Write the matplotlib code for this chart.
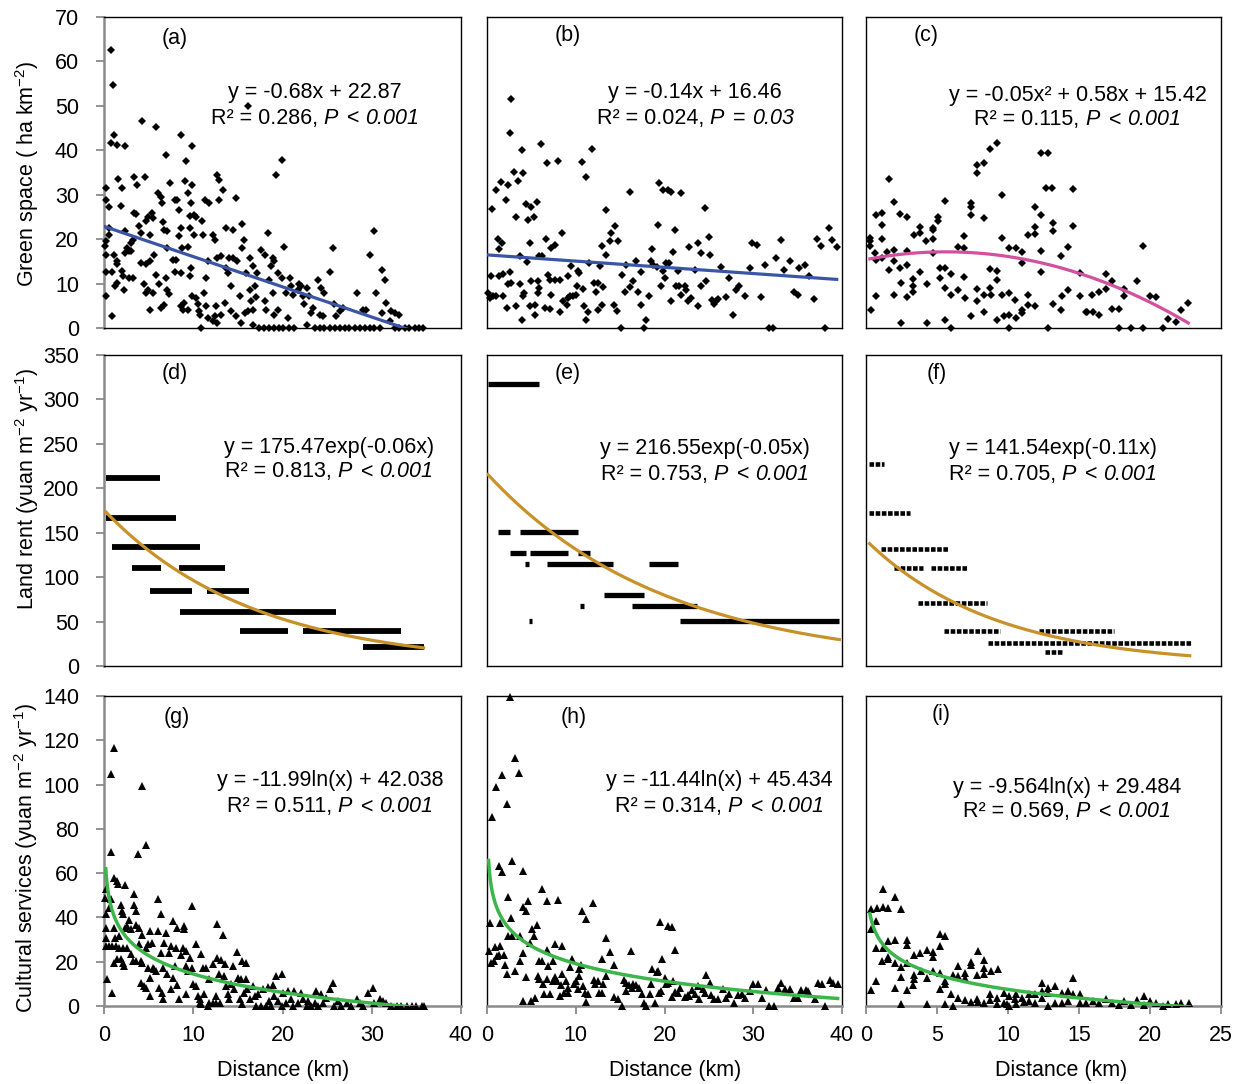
import numpy as np
import matplotlib.pyplot as plt

plt.rcParams['font.family'] = ['Liberation Sans', 'DejaVu Sans']
plt.rcParams['mathtext.fontset'] = 'custom'
plt.rcParams['mathtext.rm'] = 'Liberation Sans'
plt.rcParams['mathtext.it'] = 'Liberation Sans:italic'
plt.rcParams['font.size'] = 15.5

# ---------------- data ----------------
# (a) green space, city 1
a_pts = np.array([
    [0.75, 62.6], [1.0, 54.8], [1.1, 43.5], [0.75, 41.6], [1.5, 41.1], [2.4, 40.9], [0.2, 31.5], [0.26, 28.9],
    [0.56, 27.2], [1.6, 33.6], [2.0, 31.5], [1.9, 27.4], [0.56, 22.5], [0.56, 21.0], [0.2, 19.5], [0.1, 18.4],
    [0.26, 16.5], [1.1, 16.5], [1.4, 15.0], [1.5, 14.3], [0.2, 12.5], [0.94, 12.5], [2.0, 12.8], [2.1, 11.6],
    [1.2, 9.5], [1.5, 10.1], [2.2, 8.5], [0.26, 7.1], [0.94, 2.6], [2.4, 21.8], [2.6, 18.0], [2.8, 17.3],
    [2.4, 16.9], [3.0, 19.1], [3.2, 19.9], [3.4, 25.9], [3.6, 25.7], [3.4, 34.1], [3.7, 32.3], [4.2, 46.5],
    [4.6, 34.0], [3.9, 22.9], [4.1, 21.4], [4.7, 24.0], [4.9, 25.0], [5.4, 25.9], [5.5, 24.8], [5.2, 21.0],
    [3.0, 17.3], [3.2, 11.3], [2.8, 11.3], [4.1, 14.6], [4.7, 14.5], [5.1, 15.0], [4.5, 9.8], [4.7, 7.9],
    [4.9, 8.6], [5.1, 4.1], [5.5, 7.9], [5.6, 16.5], [5.8, 45.2], [6.0, 30.4], [6.4, 29.6], [6.5, 28.1],
    [6.6, 23.8], [6.7, 22.1], [6.9, 39.0], [7.1, 21.8], [7.4, 32.6], [7.1, 18.0], [5.8, 12.0], [6.2, 9.8],
    [6.4, 4.5], [6.7, 5.1], [6.9, 11.3], [7.1, 8.6], [7.3, 7.7], [7.7, 15.4], [7.9, 28.9], [8.1, 15.4],
    [8.0, 12.5], [8.2, 28.9], [8.4, 26.6], [8.6, 43.5], [8.6, 22.5], [8.4, 20.6], [8.7, 18.0], [8.6, 12.4],
    [8.6, 4.9], [8.8, 4.1], [9.2, 37.5], [9.1, 33.0], [9.4, 30.4], [9.6, 25.3], [9.6, 22.5], [9.4, 18.2],
    [9.6, 11.6], [9.7, 13.5], [9.0, 5.6], [9.4, 4.1], [9.9, 40.9], [9.9, 32.3], [9.7, 28.1], [10.1, 25.5],
    [10.3, 25.1], [10.1, 21.0], [9.9, 7.1], [10.3, 6.8], [10.5, 5.3], [10.6, 3.8], [10.7, 3.0], [10.9, 0.0],
    [11.0, 24.0], [11.1, 21.0], [11.3, 28.9], [11.4, 4.9], [11.2, 7.9], [11.4, 11.3], [11.6, 2.3], [11.6, 15.0],
    [11.8, 28.1], [12.2, 1.5], [12.2, 21.0], [12.4, 19.9], [12.4, 2.6], [12.5, 4.9], [12.7, 1.1], [12.7, 34.5],
    [12.7, 15.8], [12.9, 33.4], [13.1, 3.0], [13.1, 16.1], [12.9, 28.9], [13.3, 31.1], [13.5, 5.6], [13.7, 22.5],
    [13.7, 13.5], [13.9, 12.4], [14.0, 15.8], [14.2, 9.5], [14.2, 3.8], [14.4, 22.1], [14.4, 15.8], [14.8, 29.3],
    [14.8, 2.6], [14.9, 15.0], [15.2, 7.1], [15.4, 1.1], [15.5, 23.3], [15.5, 18.0], [15.7, 19.9], [15.9, 12.4],
    [15.8, 3.4], [16.1, 49.9], [16.1, 3.8], [16.3, 15.8], [16.3, 8.6], [16.5, 6.0], [16.7, 4.1], [16.7, 13.9],
    [16.9, 9.4], [17.0, 7.0], [16.7, 0.75], [17.1, 12.4], [17.6, 17.6], [18.0, 16.5], [18.0, 6.0], [18.2, 4.1],
    [18.4, 21.4], [18.5, 10.7], [18.7, 13.9], [18.9, 15.8], [19.1, 15.0], [18.9, 7.9], [19.1, 3.0], [19.3, 34.5],
    [19.5, 12.4], [19.5, 4.1], [19.9, 37.9], [19.9, 11.3], [20.2, 18.2], [20.4, 7.9], [20.6, 2.3], [20.8, 11.3],
    [21.0, 9.4], [21.2, 7.5], [21.7, 8.6], [21.9, 9.8], [22.1, 9.4], [22.3, 7.1], [22.4, 5.3], [22.7, 9.0],
    [22.7, 0.75], [23.0, 7.1], [23.2, 3.4], [23.4, 4.5], [24.0, 10.9], [24.2, 3.0], [24.3, 9.0], [24.5, 2.6],
    [24.7, 7.9], [25.3, 12.5], [25.7, 18.0], [25.8, 5.3], [26.0, 2.6], [26.4, 3.8], [26.8, 4.5], [28.3, 7.9],
    [29.0, 4.1], [29.4, 4.1], [29.8, 16.5], [30.3, 21.8], [30.5, 7.9], [31.1, 13.1], [31.5, 10.9], [31.1, 3.4],
    [31.6, 5.6], [32.0, 1.5], [32.2, 3.8], [32.6, 3.4], [33.0, 3.0],
    [17.4, 0], [17.9, 0], [18.5, 0], [19.0, 0], [19.6, 0], [20.1, 0], [20.7, 0], [21.3, 0], [23.6, 0],
    [24.2, 0], [24.7, 0], [25.3, 0], [25.9, 0], [26.4, 0], [27.0, 0], [27.5, 0], [28.1, 0], [28.7, 0],
    [29.2, 0], [29.8, 0], [30.3, 0], [30.9, 0], [32.6, 0], [33.1, 0], [33.7, 0], [34.2, 0], [34.8, 0],
    [35.3, 0], [35.7, 0],
])

# (b) green space, city 2
b_pts = np.array([
    [2.74, 51.6], [2.55, 43.8], [3.98, 40.0], [6.1, 41.5], [6.7, 37.2], [8.0, 37.6], [10.7, 37.3], [11.8, 40.4],
    [11.2, 34.1], [3.0, 35.2], [4.1, 35.0], [3.5, 33.1], [1.6, 32.9], [2.4, 32.2], [1.0, 31.1], [0.6, 26.9],
    [2.1, 28.8], [4.4, 27.9], [5.0, 27.3], [5.6, 28.4], [3.3, 24.9], [4.6, 24.3], [5.3, 25.1], [1.2, 20.0],
    [1.4, 17.7], [1.7, 19.2], [4.8, 19.1], [6.6, 20.0], [7.2, 18.0], [7.6, 18.7], [8.4, 21.3], [3.7, 16.1],
    [4.5, 14.8], [5.9, 16.1], [6.2, 16.1], [0.4, 11.8], [1.4, 11.6], [1.8, 12.2], [2.6, 12.5], [2.4, 10.0],
    [2.7, 10.1], [3.7, 10.0], [5.0, 10.6], [5.7, 10.6], [6.9, 12.0], [7.1, 10.9], [7.6, 10.9], [8.2, 10.9],
    [9.1, 11.6], [9.5, 14.0], [10.2, 12.9], [10.4, 12.4], [11.5, 14.6], [12.7, 14.0], [0.1, 7.9], [0.3, 6.7],
    [0.7, 7.1], [1.05, 7.3], [1.8, 7.3], [2.2, 4.5], [3.3, 5.0], [3.9, 1.7], [4.2, 7.9], [4.0, 7.1],
    [4.8, 5.0], [5.4, 5.2], [5.4, 3.0], [5.7, 7.9], [5.9, 9.0], [6.5, 4.5], [7.1, 4.3], [7.2, 7.5],
    [8.2, 3.7], [8.6, 6.1], [9.0, 5.2], [9.1, 6.7], [9.3, 7.1], [9.7, 7.3], [10.0, 7.5], [10.1, 9.5],
    [10.8, 8.8], [10.9, 5.0], [11.1, 1.7], [11.4, 3.5], [12.0, 10.1], [12.3, 8.2], [12.5, 10.1], [12.5, 4.1],
    [13.1, 9.2], [13.0, 5.2], [13.0, 18.5], [13.4, 26.6], [13.4, 16.5], [13.8, 19.5], [14.0, 21.3], [14.4, 23.0],
    [14.7, 19.5], [14.3, 5.2], [14.6, 3.9], [15.1, 0.0], [15.2, 12.0], [15.5, 8.1], [15.7, 14.2], [16.1, 30.7],
    [16.1, 9.2], [16.4, 10.5], [16.8, 15.0], [17.0, 8.1], [17.4, 12.7], [17.4, 5.2], [17.7, 0.0], [17.9, 1.7],
    [18.3, 7.3], [18.5, 15.0], [18.6, 17.7], [18.7, 14.2], [19.1, 13.8], [19.3, 23.2], [19.4, 32.6], [19.6, 9.4],
    [19.8, 31.1], [19.8, 12.9], [20.0, 11.2], [20.2, 14.6], [20.4, 31.1], [20.5, 14.6], [20.7, 30.7], [20.7, 6.0],
    [21.0, 17.2], [21.2, 22.1], [21.3, 9.4], [21.5, 12.9], [21.6, 9.4], [21.9, 30.5], [21.9, 7.5], [22.3, 9.5],
    [22.4, 8.6], [22.6, 6.0], [22.8, 18.3], [23.0, 6.7], [23.4, 13.1], [23.8, 19.1], [23.8, 5.0], [24.1, 16.8],
    [24.1, 9.4], [24.6, 27.1], [24.7, 10.5], [25.0, 20.4], [25.1, 16.5], [25.4, 6.4], [25.6, 5.4], [25.8, 6.0],
    [26.0, 6.5], [26.4, 13.8], [26.9, 6.9], [27.3, 11.2], [27.7, 3.0], [28.1, 8.5], [28.4, 9.4], [29.1, 7.1],
    [29.6, 13.5], [29.9, 19.1], [30.4, 18.7], [30.9, 6.9], [31.3, 14.1], [31.8, 0.0], [32.2, 0.0], [32.6, 15.7],
    [33.1, 19.8], [33.5, 13.1], [34.1, 15.0], [34.6, 8.1], [35.0, 7.5], [35.2, 13.6], [35.8, 14.2], [36.3, 11.6],
    [36.8, 6.5], [37.2, 20.0], [37.6, 18.5], [38.1, 0.0], [38.5, 22.5], [38.9, 19.8], [39.4, 18.3],
])

# (c) green space, city 3
c_pts = np.array([
    [0.28, 20.2], [0.28, 19.5], [0.28, 18.5], [0.33, 4.1], [0.7, 7.1], [0.7, 25.4], [0.63, 16.8], [0.7, 15.3],
    [1.1, 26.0], [1.1, 23.1], [1.1, 20.1], [1.1, 15.7], [1.6, 33.5], [1.5, 17.1], [1.6, 13.1], [2.0, 28.4],
    [2.0, 17.6], [2.0, 15.0], [2.0, 7.5], [2.4, 25.6], [2.4, 13.5], [2.5, 10.1], [2.5, 1.1], [2.9, 25.1],
    [2.9, 17.4], [2.9, 14.1], [2.9, 6.9], [3.3, 11.0], [3.3, 9.4], [3.3, 8.1], [3.4, 21.0], [3.8, 21.3],
    [3.8, 22.8], [3.8, 12.5], [4.2, 19.5], [4.3, 9.9], [4.3, 1.1], [4.7, 20.0], [4.7, 22.1], [4.7, 22.6],
    [4.7, 16.8], [5.1, 24.0], [5.1, 24.9], [5.2, 13.5], [5.2, 11.2], [5.6, 13.5], [5.6, 9.0], [5.6, 1.9],
    [5.6, 28.7], [6.0, 0.0], [6.0, 12.2], [6.0, 7.5], [6.5, 18.3], [6.5, 8.6], [6.9, 20.7], [6.9, 18.0],
    [6.9, 11.5], [7.0, 6.7], [7.4, 28.1], [7.4, 27.3], [7.4, 25.4], [7.4, 2.6], [7.8, 36.7], [7.8, 35.0],
    [7.8, 8.8], [7.8, 6.0], [8.3, 37.1], [8.3, 24.7], [8.3, 7.5], [8.3, 3.5], [8.7, 40.4], [8.7, 13.2],
    [8.7, 9.0], [8.8, 7.5], [9.2, 41.7], [9.2, 12.9], [9.2, 10.9], [9.2, 1.9], [9.6, 29.9], [9.6, 20.2],
    [9.6, 7.5], [9.7, 2.8], [10.1, 18.0], [10.1, 7.9], [10.1, 3.0], [10.1, 0.0], [10.6, 18.0], [10.5, 6.4],
    [10.6, 2.2], [11.0, 17.1], [11.0, 14.6], [11.0, 4.1], [11.0, 3.4], [11.4, 21.0], [11.4, 7.5], [11.4, 5.2],
    [11.9, 27.3], [11.9, 22.8], [11.9, 21.1], [11.9, 5.0], [12.3, 25.4], [12.3, 17.4], [12.3, 12.7], [12.35, 39.4],
    [12.8, 39.4], [12.7, 31.6], [13.1, 31.6], [12.8, 0.0], [13.2, 23.7], [13.2, 21.9], [13.2, 5.4], [13.7, 16.2],
    [13.7, 4.1], [13.8, 7.3], [14.2, 18.2], [14.2, 8.6], [14.6, 31.3], [14.6, 23.0], [15.1, 12.4], [15.1, 7.3],
    [15.5, 3.7], [15.6, 3.5], [15.9, 7.5], [16.0, 3.7], [16.4, 8.1], [16.4, 3.0], [16.9, 12.2], [16.9, 8.8],
    [17.3, 10.5], [17.3, 4.3], [17.8, 4.3], [17.8, 0.0], [18.2, 8.8], [18.2, 7.3], [18.7, 0.0], [19.1, 10.5],
    [19.5, 18.5], [19.5, 0.0], [20.0, 7.3], [20.4, 6.9], [20.9, 0.0], [21.3, 2.0], [21.8, 1.3], [22.2, 4.1],
    [22.7, 5.6],
])

# (d)-(f) land rent: each row of constant rent drawn as (rent, from km, to km)
d_rent = [212, 167, 133.5, 110, 110, 84.4, 84.4, 61, 39.4, 39.4, 21.8]
d_from = [0.2, 0.2, 0.94, 3.1, 8.35, 5.2, 11.5, 8.5, 15.2, 22.3, 29.0]
d_to = [6.3, 8.05, 10.8, 6.4, 13.6, 9.85, 16.2, 26.0, 20.6, 33.3, 35.8]

e_rent = [317.3, 151, 151, 126.8, 126.8, 126.8, 114.8, 114.8, 114.8, 79.9, 67.9, 67.9, 50.6, 50.6]
e_from = [0.1, 1.24, 3.7, 2.55, 4.8, 10.2, 4.3, 6.7, 18.3, 13.2, 10.5, 16.3, 4.7, 21.7]
e_to = [5.8, 2.6, 10.3, 4.4, 9.1, 11.6, 4.7, 14.2, 21.5, 17.7, 10.9, 23.6, 5.1, 39.7]

f_rent = [226.9, 172.5, 131.3, 109.9, 109.9, 70.5, 39.4, 39.4, 25.5, 15.8]
f_from = [0.19, 0.19, 1.06, 1.95, 4.6, 3.66, 5.5, 12.2, 8.6, 12.6]
f_to = [1.3, 3.1, 5.8, 4.0, 7.15, 8.5, 9.45, 17.5, 22.9, 13.9]

# (g) cultural services, city 1
g_pts = np.array([
    [1.12, 116.7], [0.75, 104.9], [4.23, 99.2], [4.7, 72.6], [0.75, 69.7], [3.75, 68.8], [0.19, 52.7], [0.1, 48.9],
    [1.1, 58.0], [1.5, 56.4], [1.6, 55.2], [2.4, 54.6], [0.26, 41.4], [0.5, 44.4], [0.75, 48.2], [0.19, 35.4],
    [0.19, 30.9], [0.19, 27.1], [0.56, 27.1], [0.94, 27.1], [1.3, 27.1], [1.7, 26.3], [2.1, 26.3], [1.1, 35.4],
    [1.2, 30.9], [1.7, 31.6], [1.9, 45.6], [2.0, 42.9], [2.1, 41.4], [2.4, 35.4], [2.6, 36.1], [2.8, 38.7],
    [3.0, 34.6], [3.4, 50.7], [3.4, 45.6], [3.6, 42.9], [3.6, 36.6], [3.9, 35.4], [4.3, 32.1], [1.1, 19.6],
    [1.5, 21.1], [1.9, 21.1], [2.1, 19.6], [2.2, 18.1], [0.37, 12.0], [0.94, 6.0], [2.6, 26.3], [3.0, 23.3],
    [3.2, 20.3], [3.6, 20.3], [3.9, 27.8], [4.1, 20.3], [4.3, 19.6], [4.7, 26.3], [4.9, 27.8], [5.1, 33.9],
    [4.9, 17.3], [4.1, 10.5], [4.5, 9.0], [4.7, 8.0], [5.1, 12.8], [5.2, 4.5], [5.4, 28.6], [5.5, 17.3],
    [5.6, 16.6], [5.8, 15.8], [6.0, 48.5], [6.0, 33.9], [6.2, 8.3], [6.4, 41.4], [6.4, 24.1], [6.5, 6.0],
    [6.6, 3.0], [6.6, 17.3], [6.7, 28.6], [6.9, 33.1], [7.1, 14.3], [7.3, 24.1], [7.5, 27.1], [7.5, 7.5],
    [7.7, 38.4], [7.7, 12.8], [7.9, 18.1], [8.1, 26.3], [8.2, 35.4], [8.2, 9.5], [8.4, 3.0], [8.6, 23.0],
    [8.8, 26.3], [9.0, 36.1], [9.0, 34.6], [9.2, 24.8], [9.2, 18.1], [9.2, 5.3], [9.4, 15.8], [9.6, 21.5],
    [9.9, 45.2], [9.9, 17.3], [10.0, 9.8], [10.3, 27.8], [10.3, 9.0], [10.5, 4.5], [10.7, 3.0], [10.7, 1.5],
    [10.9, 23.3], [10.9, 0.8], [11.1, 17.0], [11.2, 5.3], [11.4, 17.3], [11.6, 0.0], [11.8, 1.5], [11.8, 12.0],
    [12.2, 18.8], [12.2, 1.5], [12.5, 4.5], [12.6, 1.5], [12.7, 37.2], [12.7, 21.8], [12.9, 14.3], [13.0, 1.5],
    [13.1, 20.6], [13.3, 32.1], [13.4, 13.5], [13.5, 18.8], [13.7, 9.0], [13.9, 5.3], [14.0, 3.0], [14.2, 9.8],
    [14.4, 18.1], [14.6, 7.5], [14.9, 24.5], [15.0, 12.5], [15.2, 3.0], [15.4, 12.0], [15.5, 20.3], [15.5, 0.8],
    [15.7, 6.0], [15.9, 19.6], [15.9, 12.0], [16.0, 7.5], [16.3, 3.0], [16.7, 9.0], [16.9, 4.5], [17.0, 0.0],
    [17.3, 5.3], [17.6, 0.0], [17.8, 7.5], [18.2, 0.0], [18.4, 8.6], [18.5, 2.3], [18.7, 0.0], [18.9, 9.5],
    [19.1, 4.5], [19.3, 13.5], [19.5, 2.3], [19.9, 14.6], [19.9, 0.0], [20.0, 6.0], [20.4, 1.5], [20.6, 6.8],
    [21.0, 3.0], [21.2, 0.0], [21.3, 6.8], [21.7, 1.5], [22.1, 6.0], [22.3, 3.0], [22.7, 0.0], [22.8, 2.3],
    [23.2, 0.0], [23.6, 1.5], [23.8, 6.8], [24.0, 0.0], [24.3, 5.3], [24.5, 1.5], [24.9, 3.8], [25.3, 7.5],
    [25.7, 10.5], [25.8, 0.0], [26.2, 2.3], [26.6, 0.0], [27.2, 1.5], [27.7, 0.0], [28.3, 3.0], [28.7, 1.5],
    [29.0, 0.0], [29.6, 6.0], [30.1, 8.3], [30.3, 1.5], [30.9, 3.0], [31.3, 2.3], [31.6, 1.5], [32.2, 0.0],
    [32.8, 0.0], [33.3, 0.0], [33.9, 0.0], [34.5, 0.0], [35.0, 0.0], [35.6, 0.0], [35.8, 0.0],
])

# (h) cultural services, city 2
h_pts = np.array([
    [2.6, 139.5], [3.1, 112.0], [3.6, 105.0], [1.7, 104.5], [1.05, 98.8], [2.2, 91.3], [0.6, 85.3], [2.85, 65.6],
    [1.35, 63.3], [1.7, 60.3], [4.0, 61.1], [6.2, 52.8], [2.4, 49.0], [4.6, 47.2], [6.75, 47.5], [8.0, 47.9],
    [4.1, 44.5], [4.4, 43.0], [10.7, 43.1], [11.9, 46.7], [11.2, 39.2], [0.3, 37.4], [1.5, 37.4], [2.7, 39.5],
    [5.6, 36.4], [5.1, 34.7], [5.3, 31.7], [2.4, 31.4], [2.85, 31.4], [3.7, 31.4], [4.8, 28.4], [7.7, 28.1],
    [8.4, 26.9], [13.4, 30.7], [19.5, 37.7], [20.4, 35.9], [20.8, 35.6], [21.2, 25.4], [16.2, 24.7], [19.7, 21.3],
    [13.9, 24.4], [13.0, 21.3], [0.2, 24.7], [0.9, 26.6], [1.5, 26.9], [1.9, 23.2], [0.4, 19.2], [0.75, 20.5],
    [1.1, 22.5], [1.35, 22.8], [2.0, 18.7], [2.2, 14.5], [3.2, 15.7], [3.75, 20.2], [4.1, 23.7], [4.4, 13.0],
    [5.9, 20.2], [6.2, 20.2], [6.7, 25.1], [6.9, 18.0], [7.4, 20.2], [5.7, 13.5], [5.9, 12.0], [6.3, 10.0],
    [6.75, 12.3], [7.4, 11.2], [7.6, 13.0], [7.9, 11.2], [8.3, 9.3], [8.5, 14.5], [8.9, 11.2], [9.1, 8.2],
    [9.3, 17.7], [9.6, 21.3], [9.8, 9.7], [10.0, 11.2], [10.2, 7.5], [10.4, 13.5], [10.4, 16.8], [10.6, 18.7],
    [10.8, 9.0], [11.0, 6.0], [11.2, 1.8], [11.4, 5.2], [12.0, 11.5], [12.2, 9.7], [12.5, 11.2], [12.6, 6.0],
    [13.0, 6.0], [13.1, 9.7], [13.4, 13.5], [14.3, 18.3], [14.3, 4.0], [14.7, 3.0], [15.2, 0.0], [15.4, 11.5],
    [15.6, 10.2], [15.7, 6.7], [16.0, 9.3], [16.3, 8.2], [16.5, 10.0], [16.8, 9.4], [17.1, 8.2], [17.5, 5.2],
    [17.7, 1.5], [17.9, 0.0], [18.4, 5.5], [18.5, 9.7], [18.6, 16.8], [18.9, 1.5], [19.1, 15.3], [19.25, 16.0],
    [19.4, 6.0], [19.6, 6.7], [20.0, 12.4], [20.2, 9.7], [20.4, 10.5], [20.8, 4.0], [20.9, 11.2], [21.2, 6.3],
    [21.5, 6.0], [21.7, 8.2], [22.25, 4.0], [22.6, 4.8], [22.8, 4.5], [23.1, 7.2], [23.4, 5.2], [23.75, 9.0],
    [23.9, 3.3], [24.3, 7.5], [24.6, 6.0], [24.7, 13.8], [25.1, 10.5], [25.25, 4.8], [25.6, 3.0], [26.0, 3.0],
    [26.6, 7.5], [26.9, 3.7], [27.3, 5.2], [27.8, 1.5], [28.25, 4.8], [28.7, 5.2], [29.1, 3.7], [29.6, 6.7],
    [30.0, 9.7], [30.5, 9.7], [30.95, 3.7], [31.4, 7.2], [31.8, 0.0], [32.3, 0.0], [32.8, 8.2], [33.1, 10.2],
    [33.6, 7.5], [34.1, 7.5], [34.6, 3.7], [35.0, 3.7], [35.4, 7.0], [35.9, 7.2], [36.2, 6.7], [36.9, 3.0],
    [37.3, 10.5], [37.7, 9.7], [38.1, 0.0], [38.6, 11.7], [39.0, 10.5], [39.5, 9.7], [4.05, 2.2], [5.0, 2.2],
    [5.4, 3.7], [6.4, 5.5], [7.05, 5.5], [8.25, 4.5], [8.7, 6.0], [9.1, 6.0],
])

# (i) cultural services, city 3
i_pts = np.array([
    [1.17, 52.7], [2.04, 49.4], [2.5, 43.9], [0.33, 43.7], [0.75, 44.2], [1.17, 44.9], [1.57, 44.2], [0.33, 34.7],
    [0.7, 38.2], [0.7, 26.2], [1.17, 26.2], [1.15, 20.2], [1.57, 29.5], [2.04, 29.9], [1.57, 22.2], [1.57, 21.3],
    [2.04, 19.2], [2.46, 17.7], [2.5, 13.0], [2.04, 7.9], [0.7, 11.2], [0.33, 7.0], [2.5, 1.0], [2.9, 29.9],
    [2.9, 27.7], [2.9, 19.5], [2.9, 7.2], [3.4, 22.8], [3.4, 14.2], [3.4, 12.0], [3.3, 9.3], [3.8, 23.7],
    [3.85, 16.0], [4.3, 25.4], [4.3, 12.7], [4.3, 0.7], [4.7, 24.3], [4.7, 22.0], [4.7, 15.7], [5.2, 26.9],
    [5.2, 32.6], [5.2, 15.0], [5.2, 7.8], [5.6, 31.7], [5.6, 11.2], [5.6, 9.7], [5.6, 0.7], [6.0, 5.2],
    [6.1, 0.0], [6.1, 13.8], [6.5, 18.0], [6.5, 13.5], [6.5, 3.4], [7.0, 14.7], [7.0, 12.7], [7.0, 2.7],
    [7.4, 19.8], [7.4, 18.7], [7.4, 1.8], [7.9, 24.7], [7.8, 14.2], [7.8, 3.0], [7.9, 1.8], [8.3, 20.7],
    [8.3, 17.2], [8.3, 14.5], [8.3, 1.5], [8.8, 16.0], [8.7, 5.2], [8.7, 2.7], [9.3, 16.5], [9.2, 3.7],
    [9.2, 0.7], [9.7, 6.0], [9.7, 1.5], [9.9, 0.7], [10.1, 4.5], [10.1, 0.0], [10.5, 3.0], [10.6, 5.2],
    [10.6, 0.7], [11.0, 3.7], [11.1, 1.8], [11.5, 2.2], [11.5, 5.2], [11.9, 1.5], [11.9, 5.2], [12.4, 10.2],
    [12.4, 3.7], [12.4, 6.7], [12.8, 6.0], [12.8, 8.2], [12.8, 0.0], [13.3, 9.0], [13.3, 1.5], [13.8, 6.0],
    [13.8, 1.5], [14.2, 6.7], [14.25, 2.2], [14.6, 12.4], [14.6, 5.5], [15.1, 5.2], [15.1, 1.5], [15.5, 1.5],
    [16.0, 2.2], [16.4, 1.5], [16.9, 3.3], [17.3, 1.5], [17.8, 0.3], [18.2, 2.2], [18.7, 0.3], [19.1, 2.7],
    [19.6, 4.5], [19.6, 0.3], [20.0, 2.2], [20.4, 1.5], [20.9, 0.0], [21.3, 0.7], [21.8, 0.7], [22.2, 1.5],
    [22.75, 1.5],
])

labels = ['(a)', '(b)', '(c)', '(d)', '(e)', '(f)', '(g)', '(h)', '(i)']
eq_line1 = ['y = -0.68x + 22.87', 'y = -0.14x + 16.46', 'y = -0.05x² + 0.58x + 15.42',
            'y = 175.47exp(-0.06x)', 'y = 216.55exp(-0.05x)', 'y = 141.54exp(-0.11x)',
            'y = -11.99ln(x) + 42.038', 'y = -11.44ln(x) + 45.434', 'y = -9.564ln(x) + 29.484']
eq_r2 = ['0.286', '0.024', '0.115', '0.813', '0.753', '0.705', '0.511', '0.314', '0.569']
eq_p = ['<', '=', '<', '<', '<', '<', '<', '<', '<']
eq_pval = ['0.001', '0.03', '0.001', '0.001', '0.001', '0.001', '0.001', '0.001', '0.001']

# ---------------- layout ----------------
fig = plt.figure(figsize=(12.46, 10.84), dpi=100)
col_left = [0.0835, 0.3909, 0.6950]
col_w = [0.2865, 0.2849, 0.2849]
row_bot = [0.6974, 0.3856, 0.0720]
row_h = [0.2869, 0.2869, 0.2860]
xmax = [40, 40, 25]
ymax = [70, 350, 140]
ystep = [10, 50, 20]
xstep = [10, 10, 5]

label_pos = [(0.199, 0.932), (0.228, 0.942), (0.169, 0.942),
             (0.199, 0.942), (0.228, 0.942), (0.200, 0.942),
             (0.204, 0.929), (0.245, 0.932), (0.211, 0.940)]
eq_pos = [(0.591, 0.756, 0.675), (0.586, 0.756, 0.675), (0.597, 0.749, 0.669),
          (0.630, 0.704, 0.624), (0.614, 0.698, 0.617), (0.527, 0.698, 0.617),
          (0.633, 0.726, 0.642), (0.654, 0.726, 0.642), (0.566, 0.706, 0.626)]

grey = '#8a8a8a'
blue = '#3b55a6'
pink = '#d4509f'
gold = '#c8912a'
green = '#3cb54a'

axes = []
for r in range(3):
    for c in range(3):
        ax = fig.add_axes([col_left[c], row_bot[r], col_w[c], row_h[r]])
        ax.set_xlim(0, xmax[c])
        ax.set_ylim(0, ymax[r])
        for s in ax.spines.values():
            s.set_color('k')
            s.set_linewidth(1.0)
        ax.set_yticks(np.arange(0, ymax[r] + 1, ystep[r]))
        ax.set_xticks(np.arange(0, xmax[c] + 1, xstep[c]))
        ax.tick_params(axis='y', direction='out', length=6, width=1.3, color=grey, pad=12)
        ax.tick_params(axis='x', direction='out', length=6, width=1.3, color=grey, pad=8)
        if c == 0:
            ax.spines['left'].set_color(grey)
            ax.spines['left'].set_linewidth(1.8)
        else:
            ax.tick_params(axis='y', left=False, labelleft=False)
        if r == 2:
            ax.spines['bottom'].set_color(grey)
            ax.spines['bottom'].set_linewidth(1.8)
        else:
            ax.tick_params(axis='x', bottom=False, labelbottom=False)
        axes.append(ax)

# row 1: green space (diamonds)
for ax, pts in zip(axes[0:3], [a_pts, b_pts, c_pts]):
    ax.plot(pts[:, 0], pts[:, 1], 'D', color='k', ms=4.2, mew=0, clip_on=False, zorder=3)

xs = np.linspace(a_pts[:, 0].min(), a_pts[:, 0].max(), 200)
axes[0].plot(xs, -0.68 * xs + 22.87, color=blue, lw=2.3, zorder=4)
xs = np.linspace(0, b_pts[:, 0].max(), 200)
axes[1].plot(xs, -0.14 * xs + 16.46, color=blue, lw=2.3, zorder=4)
xs = np.linspace(c_pts[:, 0].min(), c_pts[:, 0].max(), 200)
# unrounded coefficients of the printed quadratic
axes[2].plot(xs, -0.055 * xs ** 2 + 0.62 * xs + 15.4, color=pink, lw=2.3, zorder=4)

# row 2: land rent (rows of square markers)
axes[3].hlines(d_rent, d_from, d_to, colors='k', lw=4.2, zorder=3)
axes[4].hlines(e_rent, e_from, e_to, colors='k', lw=3.8, zorder=3)
for rent, x0, x1 in zip(f_rent, f_from, f_to):
    axes[5].plot([x0, x1], [rent, rent], color='k', lw=3.3,
                 linestyle=(0, (1.0, 0.35)), dash_capstyle='butt', zorder=3)

xs = np.linspace(0.2, 35.8, 200)
axes[3].plot(xs, 175.47 * np.exp(-0.06 * xs), color=gold, lw=2.3, zorder=4)
xs = np.linspace(0.1, 39.7, 200)
axes[4].plot(xs, 216.55 * np.exp(-0.05 * xs), color=gold, lw=2.3, zorder=4)
xs = np.linspace(0.25, 22.8, 200)
axes[5].plot(xs, 141.54 * np.exp(-0.11 * xs), color=gold, lw=2.3, zorder=4)

# row 3: cultural services (triangles)
for ax, pts in zip(axes[6:9], [g_pts, h_pts, i_pts]):
    ax.plot(pts[:, 0], pts[:, 1], '^', color='k', ms=6, mew=0, clip_on=False, zorder=3)

xs = np.linspace(0.19, 35.8, 400)
axes[6].plot(xs, -11.99 * np.log(xs) + 42.038, color=green, lw=2.5, zorder=4)
xs = np.linspace(0.17, 39.5, 400)
axes[7].plot(xs, -11.44 * np.log(xs) + 45.434, color=green, lw=2.5, zorder=4)
xs = np.linspace(0.28, 22.75, 400)
axes[8].plot(xs, -9.564 * np.log(xs) + 29.484, color=green, lw=2.5, zorder=4)

# panel letters and equations
renderer = fig.canvas.get_renderer()
space_px = 0.278 * plt.rcParams['font.size'] * fig.dpi / 72


def mixed_line(ax, xc, y, parts):
    """Centre a line made of upright / italic pieces at axes x = xc."""
    texts = [ax.text(0, y, s, transform=ax.transAxes, ha='left', va='center', style=st)
             for s, st in parts]
    widths = [t.get_window_extent(renderer).width for t in texts]
    # italic glyphs lean right, so leave a little more room after them
    gaps = [space_px + (3 if st == 'italic' else 0) for s, st in parts]
    axw = ax.get_window_extent(renderer).width
    total = sum(widths) + sum(gaps[:-1])
    x = xc - total / 2 / axw
    for t, w, g in zip(texts, widths, gaps):
        t.set_x(x)
        x += (w + g) / axw


for k, ax in enumerate(axes):
    lx, ly = label_pos[k]
    ax.text(lx, ly, labels[k], transform=ax.transAxes, ha='center', va='center')
    ex, ey1, ey2 = eq_pos[k]
    ax.text(ex, ey1, eq_line1[k], transform=ax.transAxes, ha='center', va='center')
    mixed_line(ax, ex, ey2, [('R² = ' + eq_r2[k] + ',', 'normal'), ('P', 'italic'),
                             (eq_p[k], 'normal'), (eq_pval[k], 'italic')])

# axis titles
fig.text(0.022, 0.840, 'Green space ( ha km$^{-2}$)', rotation=90, ha='center', va='center')
fig.text(0.022, 0.549, 'Land rent (yuan m$^{-2}$ yr$^{-1}$)', rotation=90, ha='center', va='center')
fig.text(0.021, 0.209, 'Cultural services (yuan m$^{-2}$ yr$^{-1}$)', rotation=90, ha='center', va='center')
for xc in [0.227, 0.542, 0.8515]:
    fig.text(xc, 0.012, 'Distance (km)', ha='center', va='center')

fig.savefig('out.png', dpi=100)
